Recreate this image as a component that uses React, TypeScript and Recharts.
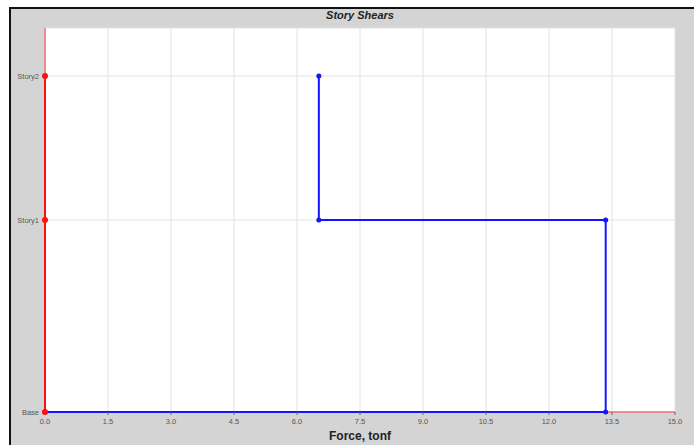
import {
  CartesianGrid,
  ComposedChart,
  Line,
  XAxis,
  YAxis,
} from "recharts";

// story levels (elevation used only for vertical placement)
const storyNames = ["Base", "Story1", "Story2"];
const storyLevels = [0, 4, 7];
const topLevel = 8;

// shear in each story, bottom to top (tonf)
const storyShear = [13.35, 6.52];

const xTicks = [0, 1.5, 3, 4.5, 6, 7.5, 9, 10.5, 12, 13.5, 15];
const xMax = 15;

// blue stepped shear profile
const shearLine: { x: number; y: number }[] = [{ x: 0, y: storyLevels[0] }];
storyShear.forEach((v, i) => {
  shearLine.push({ x: v, y: storyLevels[i] });
  shearLine.push({ x: v, y: storyLevels[i + 1] });
});

// red reference line at zero
const zeroLine = storyLevels.map((lv) => ({ x: 0, y: lv }));
const zeroGuide = [
  { x: 0, y: topLevel },
  { x: 0, y: storyLevels[0] },
  { x: xMax, y: storyLevels[0] },
];

const tickStyle = {
  fontSize: 7.5,
  fill: "#555",
  fontFamily: "'Liberation Sans', Arial, sans-serif",
};

export default function App() {
  return (
    <div
      style={{
        position: "absolute",
        left: 0,
        top: 0,
        width: 694,
        height: 445,
        background: "#fff",
        overflow: "hidden",
      }}
    >
      <div
        style={{
          position: "absolute",
          left: 9,
          top: 7,
          width: 700,
          height: 450,
          background: "#d4d4d4",
          borderLeft: "2px solid #111",
          borderTop: "2px solid #111",
        }}
      />
      <div
        style={{
          position: "absolute",
          left: 45,
          width: 630,
          top: 9,
          textAlign: "center",
          fontFamily: "'Liberation Sans Narrow', 'Liberation Sans', Arial, sans-serif",
          fontWeight: 700,
          fontStyle: "italic",
          fontSize: 11,
          color: "#222",
        }}
      >
        Story Shears
      </div>
      <div
        style={{
          position: "absolute",
          left: 45,
          width: 630,
          top: 429,
          textAlign: "center",
          fontFamily: "'Liberation Sans', Arial, sans-serif",
          fontWeight: 700,
          fontSize: 12,
          color: "#222",
        }}
      >
        Force, tonf
      </div>
      <div style={{ position: "absolute", left: 0, top: 0 }}>
        <ComposedChart
          width={694}
          height={445}
          margin={{ top: 28, right: 19, bottom: 0, left: 7 }}
        >
          <CartesianGrid
            fill="#fff"
            stroke="#e2e2e2"
            strokeWidth={1}
          />
          <XAxis
            type="number"
            dataKey="x"
            domain={[0, xMax]}
            ticks={xTicks}
            tickFormatter={(v: number) => v.toFixed(1)}
            tick={tickStyle}
            tickLine={{ stroke: "#666" }}
            tickSize={3}
            tickMargin={4}
            axisLine={false}
            height={33}
            interval={0}
          />
          <YAxis
            type="number"
            dataKey="y"
            domain={[0, topLevel]}
            ticks={storyLevels}
            tickFormatter={(v: number) => storyNames[storyLevels.indexOf(v)] ?? ""}
            tick={tickStyle}
            tickLine={{ stroke: "#666" }}
            tickSize={3}
            tickMargin={3}
            axisLine={false}
            width={38}
            interval={0}
          />
          <Line
            data={zeroGuide}
            dataKey="y"
            stroke="#f07070"
            strokeWidth={1.5}
            dot={false}
            isAnimationActive={false}
          />
          <Line
            data={shearLine}
            dataKey="y"
            stroke="#1414ff"
            strokeWidth={2}
            dot={{ r: 2.5, fill: "#1414ff", stroke: "#1414ff", strokeWidth: 0 }}
            isAnimationActive={false}
          />
          <Line
            data={zeroLine}
            dataKey="y"
            stroke="#ff1010"
            strokeWidth={2}
            dot={{ r: 3, fill: "#ff1010", stroke: "#ff1010", strokeWidth: 0 }}
            isAnimationActive={false}
          />
        </ComposedChart>
      </div>
    </div>
  );
}
